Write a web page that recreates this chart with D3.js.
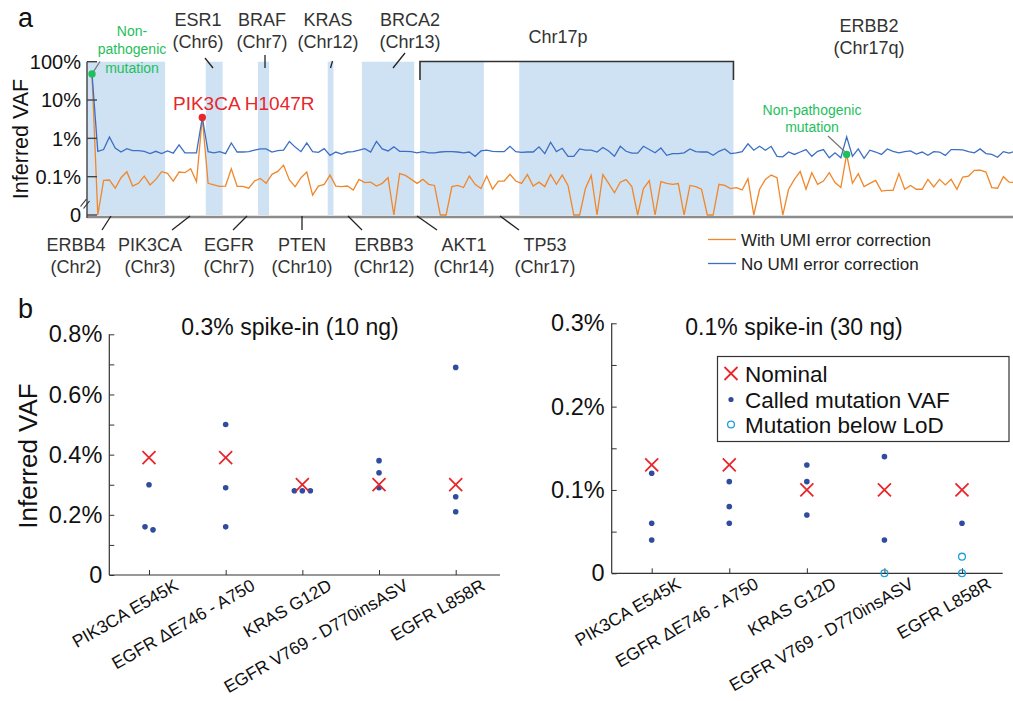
<!DOCTYPE html>
<html>
<head>
<meta charset="utf-8">
<script src="https://cdn.jsdelivr.net/npm/d3@7"></script>
<style>
body { margin: 0; background: #fff; }
svg { font-family: "Liberation Sans", Arial, sans-serif; }
</style>
</head>
<body>
<div id="chart"></div>
<script>
// ---- panel a: inferred VAF (%) along the panel, 0 = nothing seen ----
var noUmi = [
  48,0.46,0.51,1.09,0.56,0.44,0.54,0.48,0.48,0.46,
  0.40,0.46,0.40,0.47,0.41,0.68,0.42,0.42,0.42,3.5,
  0.45,0.42,0.45,0.40,0.76,0.44,0.44,0.45,0.49,0.53,
  0.53,0.44,0.48,0.49,0.83,0.59,0.45,0.76,0.45,0.43,
  0.54,0.36,0.44,0.39,0.44,0.45,0.49,0.54,0.44,0.83,
  0.53,0.47,0.60,0.46,0.46,0.45,0.42,0.45,0.42,0.42,
  0.44,0.45,0.45,0.44,0.42,0.44,0.34,0.47,0.49,0.46,
  0.45,0.45,0.62,0.45,0.43,0.44,0.44,0.60,0.40,0.79,
  0.45,0.55,0.34,0.34,0.53,0.49,0.49,0.44,0.58,0.47,
  0.34,0.62,0.46,0.41,0.41,0.62,0.51,0.42,0.56,0.36,
  0.40,0.40,0.42,0.53,0.45,0.44,0.44,0.36,0.46,0.53,
  0.40,0.42,0.45,0.72,0.49,0.62,0.49,0.62,0.34,0.33,
  0.44,0.38,0.44,0.51,0.34,0.46,0.51,0.31,0.42,0.31,
  1.09,0.34,0.53,0.30,0.49,0.44,0.38,0.53,0.46,0.42,
  0.45,0.47,0.39,0.44,0.36,0.45,0.44,0.36,0.51,0.51,
  0.50,0.45,0.42,0.53,0.40,0.38,0.32,0.45,0.41,0.46
];
var withUmi = [
  48,0,0.080,0.082,0.050,0.094,0.135,0.057,0.067,0.104,
  0.061,0.085,0.135,0.122,0.077,0.132,0.127,0.161,0.074,3.5,
  0.067,0.061,0.056,0.057,0.161,0.056,0.056,0.050,0.077,0.090,
  0.067,0.115,0.137,0.20,0.082,0.055,0.094,0.132,0.033,0.057,
  0.063,0.110,0.057,0.055,0.057,0.045,0.085,0.070,0.072,0.057,
  0.067,0.094,0,0.120,0.108,0.085,0.067,0.085,0.063,0.059,
  0,0,0.055,0.059,0.052,0.104,0.063,0.049,0.104,0.047,
  0.077,0.077,0.115,0.077,0.067,0.113,0.057,0.072,0.055,0.115,
  0.063,0.110,0.059,0,0,0.049,0.108,0,0.113,0.067,
  0.038,0.072,0.084,0.055,0,0.049,0.079,0,0.074,0.067,
  0.063,0.066,0,0.059,0.055,0.047,0,0,0.063,0.059,
  0.049,0.052,0.045,0.089,0,0.047,0.085,0.110,0.094,0,
  0.047,0.085,0.137,0.047,0.127,0.063,0.077,0.127,0.070,0.052,
  0.38,0.067,0.120,0.055,0.067,0.080,0.042,0.044,0.044,0.120,
  0.047,0.059,0.047,0.047,0.085,0.054,0.085,0.061,0.085,0.047,
  0.098,0.104,0.146,0.148,0.132,0.052,0.050,0.100,0.072,0.070
];
// shaded target regions, in position index units
var bands = [[-0.85,12.6],[19.6,22.5],[28.6,30.5],[40.6,41.6],[46.5,55.5],[56.5,67.5],[73.6,110.5]];
var chr17p = [56.5, 110.5];
var yTicksA = [0.01, 0.1, 1, 10, 100];
var yLabelsA = ["0", "0.1%", "1%", "10%", "100%"];
var greenIdx = [0, 130];   // non-pathogenic
var redIdx = 19;           // PIK3CA H1047R

// ---- panel b ----
var mutations = ["PIK3CA E545K", "EGFR \u0394E746 - A750", "KRAS G12D", "EGFR V769 - D770insASV", "EGFR L858R"];
var nominal10 = [0.39, 0.39, 0.30, 0.30, 0.30];
var called10 = [[0.30,0.16,0.15],[0.50,0.29,0.16],[0.28,0.28,0.28],[0.38,0.34,0.29],[0.69,0.26,0.21]];
var below10 = [[],[],[],[],[]];
var nominal30 = [0.13, 0.13, 0.10, 0.10, 0.10];
var called30 = [[0.12,0.06,0.04],[0.11,0.08,0.06],[0.13,0.11,0.07],[0.14,0.04],[0.06]];
var below30 = [[],[],[],[0],[0.02,0]];
var yTicks10 = [0,0.1,0.2,0.3,0.4,0.5,0.6,0.7,0.8];
var yLabels10 = ["0","","0.2%","","0.4%","","0.6%","","0.8%"];
var yTicks30 = [0,0.05,0.1,0.15,0.2,0.25,0.3];
var yLabels30 = ["0","","0.1%","","0.2%","","0.3%"];

var W = 1013, H = 701;
var svg = d3.select("#chart").append("svg").attr("width", W).attr("height", H);
svg.append("rect").attr("width", W).attr("height", H).attr("fill", "#fff");

var textCol = "#333", orange = "#f0872b", blue = "#3c6fc4", red = "#e8262b", green = "#1ec05c";

// ================= panel a =================
var xA = d3.scaleLinear().domain([0, noUmi.length - 1]).range([92, 92 + 5.805 * (noUmi.length - 1)]);
var yA = d3.scaleLog().domain([0.01, 100]).range([215, 61.7]);
function yv(v) { return yA(Math.max(v, 0.01)); }

var ga = svg.append("g");
ga.append("clipPath").attr("id", "clipA").append("rect")
  .attr("x", 87).attr("y", 0).attr("width", W - 87).attr("height", 230);

var plotA = ga.append("g").attr("clip-path", "url(#clipA)");
plotA.selectAll("rect.band").data(bands).enter().append("rect")
  .attr("class", "band")
  .attr("x", function(d){ return xA(d[0]); })
  .attr("width", function(d){ return xA(d[1]) - xA(d[0]); })
  .attr("y", yA(100)).attr("height", yA(0.01) - yA(100))
  .attr("fill", "#cfe2f3");

var line = d3.line().x(function(d, i){ return xA(i); }).y(yv);
plotA.append("path").datum(withUmi).attr("d", line)
  .attr("fill", "none").attr("stroke", orange).attr("stroke-width", 1.3);
plotA.append("path").datum(noUmi).attr("d", line)
  .attr("fill", "none").attr("stroke", blue).attr("stroke-width", 1.3);

// axes
ga.append("line").attr("x1", 87).attr("x2", W).attr("y1", 217).attr("y2", 217)
  .attr("stroke", "#8c8c8c").attr("stroke-width", 2.5);
ga.append("line").attr("x1", 87).attr("x2", 87).attr("y1", yA(100)).attr("y2", 218)
  .attr("stroke", "#555").attr("stroke-width", 1.6);
ga.selectAll("line.tk").data(yTicksA).enter().append("line")
  .attr("x1", 87).attr("x2", 97)
  .attr("y1", function(d){ return yA(d); }).attr("y2", function(d){ return yA(d); })
  .attr("stroke", "#444").attr("stroke-width", 1.4);
ga.selectAll("text.tk").data(yTicksA).enter().append("text")
  .attr("x", 81).attr("y", function(d){ return yA(d); }).attr("dy", "0.36em")
  .attr("text-anchor", "end").attr("font-size", 20).attr("fill", "#111")
  .text(function(d, i){ return yLabelsA[i]; });
// axis break
[[80.5, 206.5, 86.5, 199], [83.5, 208.5, 89.5, 201]].forEach(function(s){
  ga.append("line").attr("x1", s[0]).attr("y1", s[1]).attr("x2", s[2]).attr("y2", s[3])
    .attr("stroke", "#333").attr("stroke-width", 1.2);
});
ga.append("text").attr("transform", "translate(28,139) rotate(-90)")
  .attr("text-anchor", "middle").attr("font-size", 21.5).attr("fill", "#111").text("Inferred VAF");
svg.append("text").attr("x", 18).attr("y", 27).attr("font-size", 27).attr("fill", "#111").text("a");

// gene annotations: label lines, centre x, first baseline, leader segment
var geneLabels = [
  {t: ["ESR1", "(Chr6)"], x: 198, y: 26, l: [205, 58, 213, 68]},
  {t: ["BRAF", "(Chr7)"], x: 262, y: 26, l: [265, 55, 265, 68]},
  {t: ["KRAS", "(Chr12)"], x: 328, y: 26, l: [332.5, 61, 330.5, 68]},
  {t: ["BRCA2", "(Chr13)"], x: 410, y: 26, l: [405, 53, 393, 68]},
  {t: ["ERBB2", "(Chr17q)"], x: 869, y: 32, l: null},
  {t: ["ERBB4", "(Chr2)"], x: 76, y: 251, l: [111, 216, 102, 230]},
  {t: ["PIK3CA", "(Chr3)"], x: 150, y: 251, l: [190, 216, 172, 230]},
  {t: ["EGFR", "(Chr7)"], x: 229, y: 251, l: [247, 216, 233, 230]},
  {t: ["PTEN", "(Chr10)"], x: 302, y: 251, l: [302, 216, 302, 230]},
  {t: ["ERBB3", "(Chr12)"], x: 384, y: 251, l: [348, 216, 362, 230]},
  {t: ["AKT1", "(Chr14)"], x: 464, y: 251, l: [417, 216, 437, 230]},
  {t: ["TP53", "(Chr17)"], x: 545, y: 251, l: [500, 216, 519, 230]}
];
geneLabels.forEach(function(g){
  var t = ga.append("text").attr("text-anchor", "middle").attr("font-size", 18).attr("fill", textCol);
  g.t.forEach(function(s, k){
    t.append("tspan").attr("x", g.x).attr("y", g.y + k * 22).text(s);
  });
  if (g.l) ga.append("line").attr("x1", g.l[0]).attr("y1", g.l[1]).attr("x2", g.l[2]).attr("y2", g.l[3])
    .attr("stroke", "#222").attr("stroke-width", 1.3);
});
// Chr17p bracket
ga.append("path")
  .attr("d", "M" + xA(chr17p[0]) + ",80V61.5H" + xA(chr17p[1]) + "V80")
  .attr("fill", "none").attr("stroke", "#333").attr("stroke-width", 1.6);
ga.append("text").attr("x", 558).attr("y", 43).attr("text-anchor", "middle")
  .attr("font-size", 18).attr("fill", textCol).text("Chr17p");

// highlighted calls
ga.append("line").attr("x1", xA(greenIdx[0])).attr("y1", yv(withUmi[greenIdx[0]]))
  .attr("x2", 100).attr("y2", 61.5).attr("stroke", "#777").attr("stroke-width", 1.2);
ga.append("line").attr("x1", xA(greenIdx[1]) - 2).attr("y1", yv(withUmi[greenIdx[1]]) - 3)
  .attr("x2", 828).attr("y2", 136).attr("stroke", "#777").attr("stroke-width", 1.2);
ga.selectAll("circle.g").data(greenIdx).enter().append("circle")
  .attr("cx", function(d){ return xA(d); }).attr("cy", function(d){ return yv(withUmi[d]); })
  .attr("r", 3.7).attr("fill", green);
ga.append("circle").attr("cx", xA(redIdx)).attr("cy", yv(withUmi[redIdx])).attr("r", 3.7).attr("fill", red);
ga.append("text").attr("x", 173).attr("y", 110).attr("font-size", 19).attr("fill", red).text("PIK3CA H1047R");
var ng1 = ga.append("text").attr("text-anchor", "middle").attr("font-size", 14).attr("fill", green);
[["Non-", 36], ["pathogenic", 54], ["mutation", 73]].forEach(function(s){
  ng1.append("tspan").attr("x", 132).attr("y", s[1]).text(s[0]);
});
var ng2 = ga.append("text").attr("text-anchor", "middle").attr("font-size", 14).attr("fill", green);
[["Non-pathogenic", 115], ["mutation", 132]].forEach(function(s){
  ng2.append("tspan").attr("x", 812).attr("y", s[1]).text(s[0]);
});

// legend a
[["With UMI error correction", orange, 239.5], ["No UMI error correction", blue, 263.5]].forEach(function(s){
  ga.append("line").attr("x1", 708).attr("x2", 736).attr("y1", s[2]).attr("y2", s[2])
    .attr("stroke", s[1]).attr("stroke-width", 1.3);
  ga.append("text").attr("x", 741).attr("y", s[2] + 6).attr("font-size", 17).attr("fill", "#222").text(s[0]);
});

// ================= panel b =================
svg.append("text").attr("x", 18).attr("y", 318).attr("font-size", 27).attr("fill", "#111").text("b");

function panelB(o) {
  var g = svg.append("g");
  var x = d3.scalePoint().domain(mutations).range(o.xr);
  var y = d3.scaleLinear().domain([0, o.yTicks[o.yTicks.length - 1]]).range(o.yr);

  var ya = d3.axisLeft(y).tickValues(o.yTicks).tickSize(-5).tickSizeOuter(0).tickPadding(7)
    .tickFormat(function(d, i){ return o.yLabels[i]; });
  var yg = g.append("g").attr("transform", "translate(" + o.ax + ",0)").call(ya);
  yg.select(".domain").remove();
  yg.selectAll("line").attr("stroke", "#333");
  yg.selectAll("text").attr("font-size", 23.5).attr("fill", "#111")
    .attr("font-family", "Liberation Sans, Arial, sans-serif");

  var xa = d3.axisBottom(x).tickSize(-5).tickSizeOuter(0);
  var xg = g.append("g").attr("transform", "translate(0," + o.yr[0] + ")").call(xa);
  xg.select(".domain").remove();
  xg.selectAll("line").attr("stroke", "#333");
  xg.selectAll("text").attr("x", 0).attr("y", 0).attr("dy", 0)
    .attr("text-anchor", "end").attr("transform", "translate(30,14) rotate(-30)")
    .attr("font-size", 17.5).attr("fill", "#111")
    .attr("font-family", "Liberation Sans, Arial, sans-serif");

  g.append("line").attr("x1", o.ax).attr("x2", o.ax).attr("y1", o.yr[1]).attr("y2", o.yr[0])
    .attr("stroke", "#333").attr("stroke-width", 1.2);
  g.append("line").attr("x1", o.ax).attr("x2", o.axEnd).attr("y1", o.yr[0]).attr("y2", o.yr[0])
    .attr("stroke", "#333").attr("stroke-width", 1.2);

  g.append("text").attr("x", o.titleX).attr("y", 335).attr("text-anchor", "middle")
    .attr("font-size", 23).attr("fill", "#111").text(o.title);

  // called VAFs, nearly equal values spread sideways
  var pts = [];
  o.called.forEach(function(vals, ci){
    var s = vals.slice().sort(d3.descending), grp = [];
    s.forEach(function(v, k){
      if (k > 0 && Math.abs(v - s[k - 1]) >= 0.015) { flush(grp, ci); grp = []; }
      grp.push(v);
    });
    flush(grp, ci);
  });
  function flush(grp, ci) {
    grp.forEach(function(v, k){ pts.push({c: mutations[ci], v: v, dx: (k - (grp.length - 1) / 2) * 8}); });
  }
  g.selectAll("circle.call").data(pts).enter().append("circle")
    .attr("cx", function(d){ return x(d.c) + d.dx; }).attr("cy", function(d){ return y(d.v); })
    .attr("r", 2.8).attr("fill", "#2f4c9f");

  var low = [];
  o.below.forEach(function(vals, ci){ vals.forEach(function(v){ low.push({c: mutations[ci], v: v}); }); });
  g.selectAll("circle.low").data(low).enter().append("circle")
    .attr("cx", function(d){ return x(d.c); }).attr("cy", function(d){ return y(d.v); })
    .attr("r", 3.4).attr("fill", "none").attr("stroke", "#1ea0dc").attr("stroke-width", 1.3);

  g.selectAll("path.nom").data(o.nominal).enter().append("path")
    .attr("transform", function(d, i){ return "translate(" + x(mutations[i]) + "," + y(d) + ")"; })
    .attr("d", "M-6.5,-6.5L6.5,6.5M-6.5,6.5L6.5,-6.5")
    .attr("stroke", red).attr("stroke-width", 1.8).attr("fill", "none");
  return g;
}

panelB({xr: [149, 455.7], yr: [575, 334.3], ax: 109.3, axEnd: 500,
  yTicks: yTicks10, yLabels: yLabels10, nominal: nominal10, called: called10, below: below10,
  title: "0.3% spike-in (10 ng)", titleX: 290});
svg.append("text").attr("transform", "translate(37,456) rotate(-90)")
  .attr("text-anchor", "middle").attr("font-size", 26).attr("fill", "#111").text("Inferred VAF");

panelB({xr: [651.7, 962], yr: [573.3, 323.3], ax: 611.7, axEnd: 1002.7,
  yTicks: yTicks30, yLabels: yLabels30, nominal: nominal30, called: called30, below: below30,
  title: "0.1% spike-in (30 ng)", titleX: 794});

// legend b
var lg = svg.append("g");
lg.append("rect").attr("x", 717.5).attr("y", 356.5).attr("width", 291.5).attr("height", 85)
  .attr("fill", "#fff").attr("stroke", "#333").attr("stroke-width", 1.2);
lg.append("path").attr("transform", "translate(731,373.5)")
  .attr("d", "M-6.5,-6.5L6.5,6.5M-6.5,6.5L6.5,-6.5").attr("stroke", red).attr("stroke-width", 1.8);
lg.append("circle").attr("cx", 731).attr("cy", 399.5).attr("r", 2.6).attr("fill", "#2f4c9f");
lg.append("circle").attr("cx", 731).attr("cy", 424.5).attr("r", 3.4).attr("fill", "none")
  .attr("stroke", "#1ea0dc").attr("stroke-width", 1.3);
[["Nominal", 381.5], ["Called mutation VAF", 407.5], ["Mutation below LoD", 432.5]].forEach(function(s){
  lg.append("text").attr("x", 745).attr("y", s[1]).attr("font-size", 22.5).attr("fill", "#111").text(s[0]);
});
</script>
</body>
</html>
